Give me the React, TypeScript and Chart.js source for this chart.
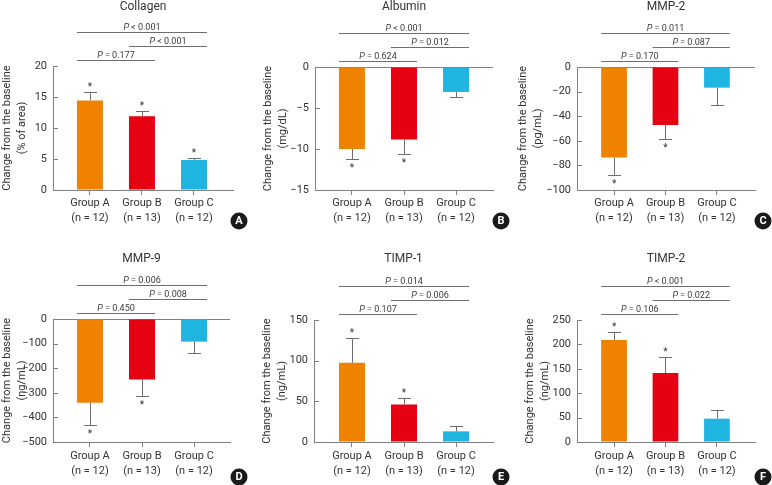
import React, { useEffect, useRef } from 'react';
import { Chart, registerables } from 'chart.js';

Chart.register(...registerables);

const FONT = 'Roboto, "Noto Sans", sans-serif';
const AXIS = '#808080';
const TEXT = '#333333';

const groupNames = ['Group A', 'Group B', 'Group C'];
const groupSizes = ['(n = 12)', '(n = 13)', '(n = 12)'];
const barColors = ['#EF8200', '#E50012', '#20B4E1'];
const bracketPairs = [[0, 1], [1, 2], [0, 2]];
const yAxisTitle = 'Change from the baseline';

const collagenMeans = [14.45, 11.9, 4.85];
const collagenErrors = [1.3, 0.9, 0.25];
const collagenStars = [true, true, true];
const collagenP = ['= 0.177', '< 0.001', '< 0.001'];

const albuminMeans = [-10.0, -8.84, -3.04];
const albuminErrors = [1.22, 1.82, 0.57];
const albuminStars = [true, true, false];
const albuminP = ['= 0.624', '= 0.012', '< 0.001'];

const mmp2Means = [-73.6, -47.2, -16.8];
const mmp2Errors = [14.2, 11.2, 13.9];
const mmp2Stars = [true, true, false];
const mmp2P = ['= 0.170', '= 0.087', '= 0.011'];

const mmp9Means = [-340, -246, -92];
const mmp9Errors = [91, 68, 48];
const mmp9Stars = [true, true, false];
const mmp9P = ['= 0.450', '= 0.008', '= 0.006'];

const timp1Means = [97.3, 46.2, 13.1];
const timp1Errors = [30.6, 7.3, 6.1];
const timp1Stars = [true, true, false];
const timp1P = ['= 0.107', '= 0.006', '= 0.014'];

const timp2Means = [209, 141.4, 47.8];
const timp2Errors = [15.7, 32, 17.8];
const timp2Stars = [true, true, false];
const timp2P = ['= 0.106', '= 0.022', '< 0.001'];

const bracketOffsets = [6, 20, 34];

const panels = [
  { letter: 'A', title: 'Collagen', unit: '(% of area)', means: collagenMeans, errors: collagenErrors, stars: collagenStars, pvals: collagenP,
    yMin: 0, yMax: 20, yStep: 5, left: 0, top: 0, w: 257, h: 242, yAxisW: 53, padRight: 24, padBottom: 12,
    titleTop: 0, titleBottom: 52, yTitlePad: 0, xMin: -0.71, xMax: 2.75, xTickPad: 0.5, badgeX: 239, badgeY: 221 },
  { letter: 'B', title: 'Albumin', unit: '(mg/dL)', means: albuminMeans, errors: albuminErrors, stars: albuminStars, pvals: albuminP,
    yMin: -15, yMax: 0, yStep: 5, left: 257, top: 0, w: 257, h: 242, yAxisW: 58, padRight: 21, padBottom: 12,
    titleTop: 0, titleBottom: 53, yTitlePad: 3.5, xMin: -0.71, xMax: 2.71, xTickPad: 0.5, badgeX: 501, badgeY: 221 },
  { letter: 'C', title: 'MMP-2', unit: '(pg/mL)', means: mmp2Means, errors: mmp2Errors, stars: mmp2Stars, pvals: mmp2P,
    yMin: -100, yMax: 0, yStep: 20, left: 514, top: 0, w: 258, h: 242, yAxisW: 63, padRight: 17, padBottom: 12,
    titleTop: 0, titleBottom: 53, yTitlePad: 1.5, xMin: -0.72, xMax: 2.74, xTickPad: 0.5, badgeX: 763, badgeY: 221 },
  { letter: 'D', title: 'MMP-9', unit: '(ng/mL)', means: mmp9Means, errors: mmp9Errors, stars: mmp9Stars, pvals: mmp9P,
    yMin: -500, yMax: 0, yStep: 100, left: 0, top: 242, w: 257, h: 243, yAxisW: 53, padRight: 27, padBottom: 3,
    titleTop: 10, titleBottom: 53, yTitlePad: 0, xMin: -0.71, xMax: 2.69, xTickPad: 2, badgeX: 239, badgeY: 477 },
  { letter: 'E', title: 'TIMP-1', unit: '(ng/mL)', means: timp1Means, errors: timp1Errors, stars: timp1Stars, pvals: timp1P,
    yMin: 0, yMax: 150, yStep: 50, left: 257, top: 242, w: 257, h: 243, yAxisW: 57, padRight: 21, padBottom: 3,
    titleTop: 10, titleBottom: 54, yTitlePad: 2.5, xMin: -0.73, xMax: 2.71, xTickPad: 2, badgeX: 501, badgeY: 477 },
  { letter: 'F', title: 'TIMP-2', unit: '(ng/mL)', means: timp2Means, errors: timp2Errors, stars: timp2Stars, pvals: timp2P,
    yMin: 0, yMax: 250, yStep: 50, left: 514, top: 242, w: 258, h: 243, yAxisW: 63, padRight: 17, padBottom: 3,
    titleTop: 10, titleBottom: 54, yTitlePad: 8.5, xMin: -0.72, xMax: 2.74, xTickPad: 2, badgeX: 763, badgeY: 477 },
];

function line(ctx: CanvasRenderingContext2D, x1: number, y1: number, x2: number, y2: number) {
  ctx.beginPath();
  ctx.moveTo(x1, y1);
  ctx.lineTo(x2, y2);
  ctx.stroke();
}

function Panel({ cfg }: { cfg: any }) {
  const ref = useRef<HTMLCanvasElement>(null);
  useEffect(() => {
    const canvas = ref.current!;
    const overlay = {
      id: 'overlay' + cfg.letter,
      afterDatasetsDraw(chart: any) {
        const ctx: CanvasRenderingContext2D = chart.ctx;
        const area = chart.chartArea;
        const ys = chart.scales.y;
        const meta = chart.getDatasetMeta(0);
        ctx.save();
        ctx.lineWidth = 1;
        ctx.strokeStyle = AXIS;
        // inward y ticks
        ys.ticks.forEach((t: any) => {
          const py = Math.round(ys.getPixelForValue(t.value)) + 0.5;
          line(ctx, area.left, py, area.left + 5, py);
        });
        // error bars and stars
        ctx.strokeStyle = '#6e6e6e';
        meta.data.forEach((bar: any, i: number) => {
          const p = bar.getProps(['x', 'y', 'width'], true);
          const m = cfg.means[i];
          const e = cfg.errors[i];
          const end = m >= 0 ? m + e : m - e;
          const x = Math.round(p.x) + 0.5;
          const y1 = Math.round(ys.getPixelForValue(end)) + 0.5;
          line(ctx, x, p.y, x, y1);
          line(ctx, x - 6.5, y1, x + 6.5, y1);
          if (cfg.stars[i]) {
            ctx.fillStyle = TEXT;
            ctx.font = `10px ${FONT}`;
            ctx.textAlign = 'center';
            ctx.textBaseline = 'alphabetic';
            ctx.fillText('*', p.x, m >= 0 ? y1 - 2.5 : y1 + 11.5);
          }
        });
        // significance brackets
        bracketPairs.forEach((pair, lvl) => {
          const a = meta.data[pair[0]].getProps(['x', 'width'], true);
          const b = meta.data[pair[1]].getProps(['x', 'width'], true);
          const x1 = a.x - a.width / 2;
          const x2 = b.x + b.width / 2;
          const y = Math.round(area.top - bracketOffsets[lvl]) + 0.5;
          ctx.strokeStyle = '#6e6e6e';
          line(ctx, x1, y, x2, y);
          const rest = ' ' + cfg.pvals[lvl];
          ctx.font = `italic 9px ${FONT}`;
          const wP = ctx.measureText('P').width;
          ctx.font = `9px ${FONT}`;
          const wR = ctx.measureText(rest).width;
          const sx = (x1 + x2) / 2 - (wP + wR) / 2;
          ctx.fillStyle = '#3a3a3a';
          ctx.textAlign = 'left';
          ctx.textBaseline = 'alphabetic';
          ctx.font = `italic 9px ${FONT}`;
          ctx.fillText('P', sx, y - 2.5);
          ctx.font = `9px ${FONT}`;
          ctx.fillText(rest, sx + wP, y - 2.5);
        });
        // panel badge
        const bx = cfg.badgeX - cfg.left;
        const by = cfg.badgeY - cfg.top;
        ctx.fillStyle = '#1a1a1a';
        ctx.beginPath();
        ctx.arc(bx, by, 8.5, 0, Math.PI * 2);
        ctx.fill();
        ctx.fillStyle = '#ffffff';
        ctx.font = `bold 11px ${FONT}`;
        ctx.textAlign = 'center';
        ctx.textBaseline = 'middle';
        ctx.fillText(cfg.letter, bx, by + 0.5);
        ctx.restore();
      },
    };
    const chart = new Chart(canvas, {
      type: 'bar',
      data: {
        datasets: [
          {
            data: cfg.means.map((v: number, i: number) => ({ x: i, y: v })),
            backgroundColor: barColors,
            borderWidth: 0,
            categoryPercentage: 1,
            barPercentage: 0.5,
          },
        ],
      },
      options: {
        responsive: false,
        animation: false,
        events: [],
        layout: { padding: { left: 0, right: cfg.padRight, top: 0, bottom: cfg.padBottom } },
        plugins: {
          legend: { display: false },
          tooltip: { enabled: false },
          title: {
            display: true,
            text: cfg.title,
            fullSize: false,
            color: TEXT,
            font: { family: FONT, size: 12, weight: 'normal', lineHeight: '14px' },
            padding: { top: cfg.titleTop, bottom: cfg.titleBottom },
          },
        },
        scales: {
          x: {
            type: 'linear',
            offset: false,
            min: cfg.xMin,
            max: cfg.xMax,
            afterBuildTicks: (s: any) => {
              s.ticks = groupNames.map((_, i) => ({ value: i }));
            },
            afterFit: (s: any) => {
              s.height = 40;
            },
            ticks: {
              autoSkip: false,
              maxRotation: 0,
              padding: cfg.xTickPad,
              color: TEXT,
              font: { family: FONT, size: 11, lineHeight: '15px' },
              callback: (v: any) => [groupNames[v], groupSizes[v]],
            },
            grid: { display: true, offset: false, drawOnChartArea: false, drawTicks: true, tickLength: 5, color: AXIS, tickColor: AXIS },
            border: { display: true, color: AXIS, width: 1 },
          },
          y: {
            min: cfg.yMin,
            max: cfg.yMax,
            afterFit: (s: any) => {
              s.width = cfg.yAxisW;
            },
            ticks: {
              stepSize: cfg.yStep,
              autoSkip: false,
              padding: 6,
              color: TEXT,
              font: { family: FONT, size: 11 },
              callback: (v: any) => (v < 0 ? '\u2212' + Math.abs(v) : String(v)),
            },
            grid: {
              drawTicks: false,
              color: (c: any) => (c.tick && c.tick.value === 0 ? AXIS : 'rgba(0,0,0,0)'),
            },
            border: { display: true, color: AXIS, width: 1 },
            title: {
              display: true,
              text: [yAxisTitle, cfg.unit],
              color: TEXT,
              font: { family: FONT, size: 11, lineHeight: '15px' },
              padding: { top: cfg.yTitlePad, bottom: 0 },
            },
          },
        },
      } as any,
      plugins: [overlay],
    });
    return () => chart.destroy();
  }, []);
  return (
    <canvas
      ref={ref}
      width={cfg.w}
      height={cfg.h}
      style={{ position: 'absolute', left: cfg.left, top: cfg.top, width: cfg.w, height: cfg.h }}
    />
  );
}

export default function App() {
  return (
    <div style={{ position: 'fixed', left: 0, top: 0, width: 772, height: 485, background: '#ffffff', overflow: 'hidden' }}>
      {panels.map((p) => (
        <Panel key={p.letter} cfg={p} />
      ))}
    </div>
  );
}
